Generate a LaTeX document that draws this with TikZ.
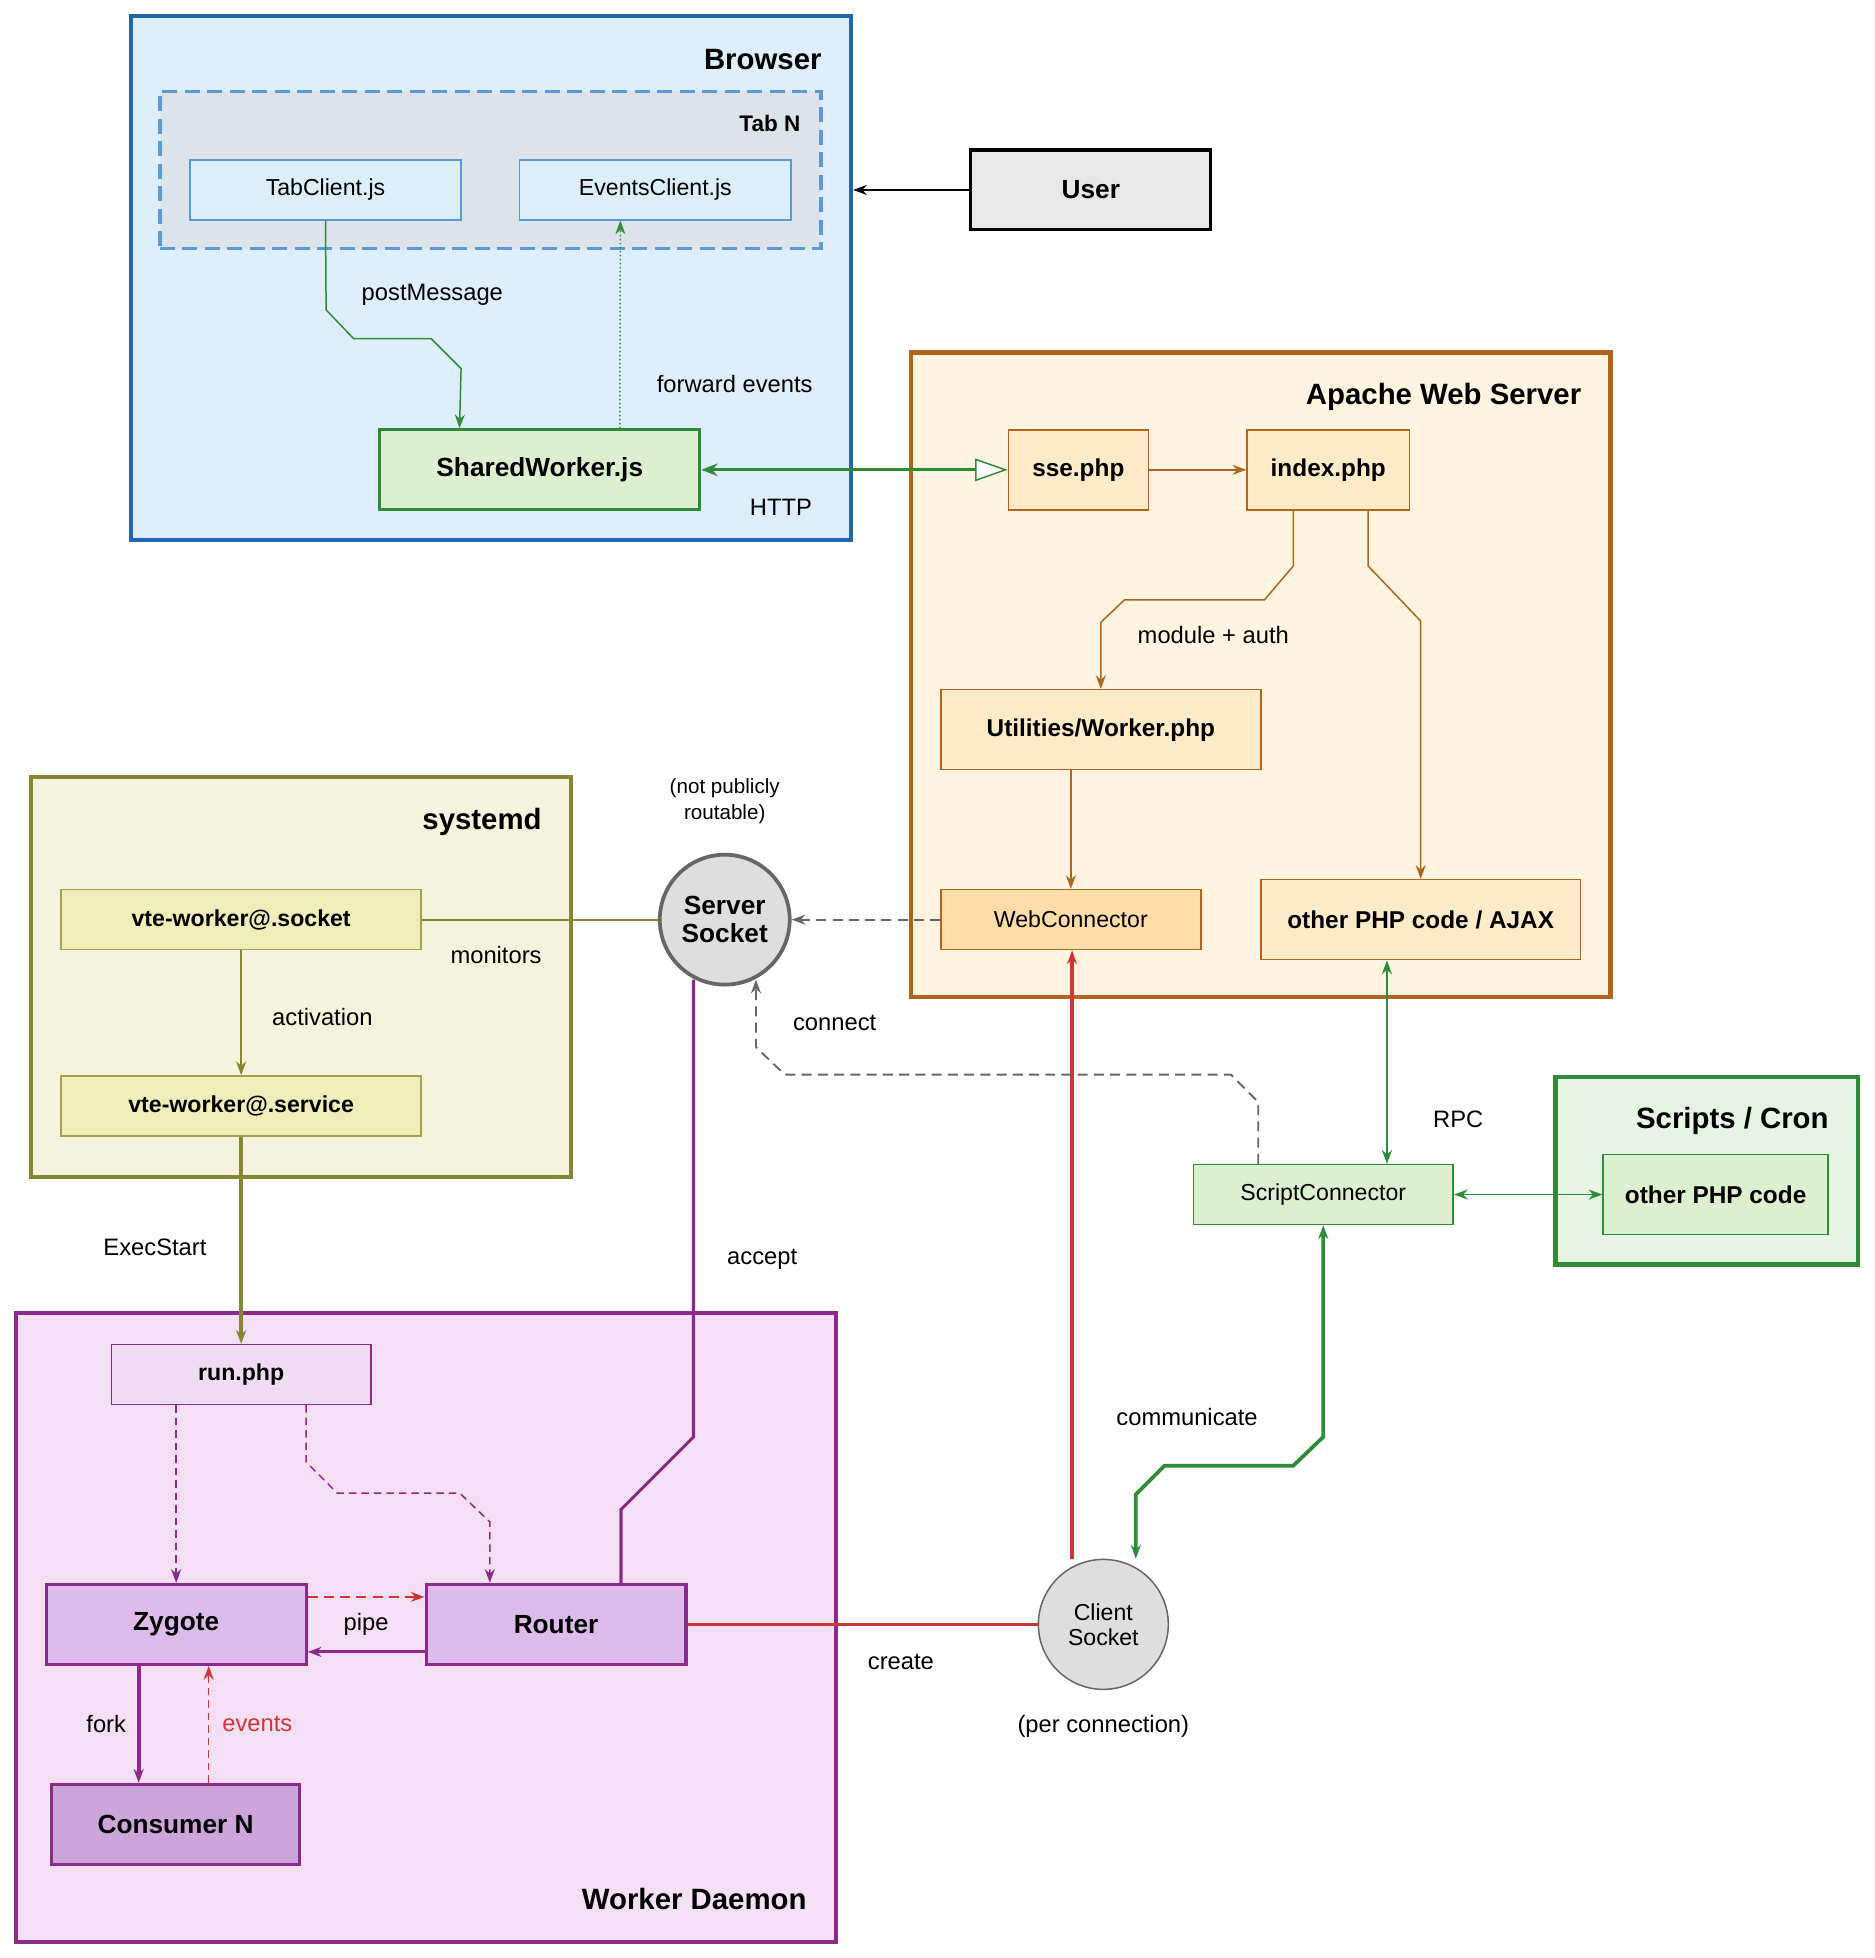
\documentclass[tikz,border=0pt]{standalone}
\usepackage{fontspec}
\setmainfont{Liberation Sans}
\usetikzlibrary{arrows.meta,calc}
\definecolor{bblue}{HTML}{2166AC}\definecolor{bfill}{HTML}{DEEEFC}
\definecolor{tblue}{HTML}{5B9BD5}\definecolor{tfill}{HTML}{DCE3EA}\definecolor{cfill}{HTML}{DCEEF7}
\definecolor{gr}{HTML}{2E8B37}\definecolor{gfill}{HTML}{DCF0D0}\definecolor{gbox}{HTML}{E6F4E4}
\definecolor{org}{HTML}{B0651E}\definecolor{ofill}{HTML}{FFF4E0}\definecolor{onode}{HTML}{FFEBC8}\definecolor{wfill}{HTML}{FFDDA8}
\definecolor{ol}{HTML}{868632}\definecolor{olfill}{HTML}{F4F4DC}\definecolor{olnode}{HTML}{EFEDB8}\definecolor{olst}{HTML}{A4A050}
\definecolor{pu}{HTML}{8B2A8B}\definecolor{pfill}{HTML}{F5DFF4}\definecolor{pnode}{HTML}{DDBBEA}\definecolor{prun}{HTML}{EEDDF2}\definecolor{pcons}{HTML}{CCA6DA}
\definecolor{rd}{HTML}{D03535}\definecolor{gy}{HTML}{666666}
\tikzset{
 every node/.style={font=\fontsize{18.5}{22}\selectfont},
 box/.style={draw,rectangle,inner sep=0pt},
 bt/.style={font=\fontsize{21}{25}\selectfont\bfseries},
 ttl/.style={font=\fontsize{23.5}{28}\selectfont\bfseries,anchor=east},
 lab/.style={font=\fontsize{19}{22}\selectfont},
 tip/.style={-{Stealth[length=11pt,width=8pt]}},
 tip2/.style={{Stealth[length=11pt,width=8pt]}-{Stealth[length=11pt,width=8pt]}},
}
\newcommand{\bx}[6]{\node[box,#6,minimum width=#4-#2,minimum height=#5-#3] (#1) at ({(#2+#4)/2},{(#3+#5)/2}) {};}
\begin{document}
\begin{tikzpicture}[x=1pt,y=-1pt]
\useasboundingbox (0,0) rectangle (1500,1567);
% Browser
\bx{brw}{105}{13}{681}{432}{draw=bblue,fill=bfill,line width=3.5pt}
\node[ttl] at (661,48) {Browser};
\bx{tab}{128}{73}{657}{199}{draw=tblue,fill=tfill,line width=2.5pt,dash pattern=on 12pt off 6pt}
\node[ttl,font=\fontsize{18}{22}\selectfont\bfseries] at (644,99) {Tab N};
\node[box,draw=tblue,fill=cfill,minimum width=217,minimum height=48,line width=1pt] (tc) at (260.5,152) {TabClient.js};
\node[box,draw=tblue,fill=cfill,minimum width=217,minimum height=48,line width=1pt] (ec) at (524.5,152) {EventsClient.js};
\node[box,draw=gr,fill=gfill,minimum width=256,minimum height=64,line width=2.5pt,bt] (sw) at (432,376) {SharedWorker.js};
\node[box,draw=black,fill=black!9,minimum width=192,minimum height=64,line width=2.5pt,bt] (user) at (873,152) {User};
% Apache
\bx{apa}{729}{282}{1289}{798}{draw=org,fill=ofill,line width=3.5pt}
\node[ttl] at (1269,318) {Apache Web Server};
\tikzset{on/.style={box,draw=org,fill=onode,line width=1.2pt,font=\fontsize{19.5}{23}\selectfont\bfseries}}
\node[on,minimum width=112,minimum height=64] (sse) at (863,376) {sse.php};
\node[on,minimum width=130,minimum height=64] (idx) at (1063,376) {index.php};
\node[on,minimum width=256,minimum height=64] (uti) at (881,584) {Utilities/Worker.php};
\node[box,draw=org,fill=wfill,line width=1.2pt,minimum width=208,minimum height=48] (wc) at (857,736) {WebConnector};
\node[on,minimum width=256,minimum height=64] (oth) at (1137,736) {other PHP code / AJAX};
% systemd
\bx{sysd}{25}{622}{457}{942}{draw=ol,fill=olfill,line width=3.5pt}
\node[ttl] at (437,658) {systemd};
\tikzset{sn/.style={box,draw=olst,fill=olnode,line width=1.2pt,minimum width=288,minimum height=48,font=\fontsize{18.5}{22}\selectfont\bfseries}}
\node[sn] (sock) at (193,736) {vte-worker@.socket};
\node[sn] (serv) at (193,885) {vte-worker@.service};
% server socket
\node[circle,draw=gy,fill=black!13,line width=3pt,minimum size=104,inner sep=0pt,align=center,bt] (ss) at (580,736) {Server\\[-3pt]Socket};
\node[lab,align=center,font=\fontsize{16.5}{21}\selectfont] at (580,641) {(not publicly\\routable)};
% Worker Daemon
\bx{wd}{13}{1051}{669}{1554}{draw=pu,fill=pfill,line width=3.5pt}
\node[ttl] at (649,1520) {Worker Daemon};
\node[box,draw=pu,fill=prun,line width=1pt,minimum width=208,minimum height=48,font=\fontsize{18.5}{22}\selectfont\bfseries] (run) at (193,1100) {run.php};
\tikzset{pn/.style={box,draw=pu,fill=pnode,line width=2.5pt,bt}}
\node[pn,minimum width=208,minimum height=64] (zy) at (141,1300) {Zygote};
\node[pn,minimum width=208,minimum height=64] (rt) at (445,1300) {Router};
\node[pn,fill=pcons,minimum width=199,minimum height=64] (cn) at (140.5,1460) {Consumer N};
% client socket
\node[circle,draw=gy,fill=black!13,line width=1.2pt,minimum size=104,inner sep=0pt,align=center] (cs) at (883,1300) {Client\\[-2pt]Socket};
\node[lab] at (883,1382) {(per connection)};
% script connector
\node[box,draw=gr,fill=gfill,line width=1.2pt,minimum width=208,minimum height=48] (sc) at (1059,956) {ScriptConnector};
\bx{scr}{1245}{862}{1487}{1012}{draw=gr,fill=gbox,line width=3.5pt}
\node[ttl] at (1467,897) {Scripts / Cron};
\node[box,draw=gr,fill=gfill,line width=1.2pt,minimum width=180,minimum height=64,font=\fontsize{19.5}{23}\selectfont\bfseries] (opc) at (1373,956) {other PHP code};
% edges
\draw[gr,line width=1.2pt,tip] (tc.south) -- (261,248) -- (283,271) -- (345,271) -- (369,295) -- ([xshift=65]sw.north west);
\node[lab] at (346,236) {postMessage};
\draw[gr,line width=1.2pt,dotted,tip] ([xshift=64]sw.north) -- ([xshift=-28]ec.south);
\node[lab] at (588,307) {forward events};
\draw[black,line width=1.2pt,tip] (user.west) -- (brw.east |- user.west);
\draw[gr,line width=2.5pt,{Stealth[length=13pt,width=10pt]}-{Triangle[open,length=26pt,width=18pt,fill=white,line width=1.2pt]}] (sw.east) -- (sse.west);
\node[lab] at (625,406) {HTTP};
\draw[org,line width=1.2pt,tip] (sse) -- (idx);
\draw[org,line width=1.2pt,tip] ([xshift=-28]idx.south) -- (1035,453) -- (1012,480) -- (900,480) -- (881,498) -- (uti.north);
\node[lab] at (971,508) {module + auth};
\draw[org,line width=1.2pt,tip] ([xshift=32]idx.south) -- (1095,453) -- (1137,497) -- (oth.north);
\draw[org,line width=1.2pt,tip] ([xshift=-24]uti.south) -- ([xshift=0]wc.north);
\draw[gy,line width=1.5pt,dash pattern=on 8pt off 5pt,tip] (wc.west) -- (ss.east);
\draw[ol,line width=1.5pt] (sock.east) -- (ss.west);
\node[lab] at (397,764) {monitors};
\draw[ol,line width=1.2pt,tip] (sock.south) -- (serv.north);
\node[lab] at (258,814) {activation};
\draw[ol,line width=3pt,tip] (serv.south) -- (run.north);
\node[lab] at (124,998) {ExecStart};
\draw[pu,line width=1.2pt,dash pattern=on 6pt off 4pt,tip] ([xshift=-52]run.south) -- (zy.north);
\draw[pu,line width=1.2pt,dash pattern=on 6pt off 4pt,tip] ([xshift=52]run.south) -- (245,1170) -- (270,1195) -- (368,1195) -- (392,1218) -- ([xshift=-53]rt.north);
\draw[rd,line width=1.2pt,dash pattern=on 8pt off 5pt,tip] ([yshift=22]zy.east) -- ([yshift=22]rt.west);
\draw[pu,line width=2.5pt,tip] ([yshift=-22]rt.west) -- ([yshift=-22]zy.east);
\node[lab] at (293,1300) {pipe};
\draw[pu,line width=3pt,tip] ([xshift=-30]zy.south) -- ([xshift=-29.5]cn.north);
\node[lab] at (85,1380) {fork};
\draw[rd,line width=1.2pt,dash pattern=on 6pt off 4pt,tip] ([xshift=26.5]cn.north) -- ([xshift=26]zy.south);
\node[lab,text=rd] at (206,1380) {events};
\draw[pu,line width=2.5pt] ([xshift=52]rt.north) -- (497,1208) -- (555,1150) -- (555,784);
\node[lab] at (610,1008) {accept};
\draw[rd,line width=2.5pt] (rt.east) -- (cs.west);
\node[lab] at (721,1330) {create};
\draw[rd,line width=3pt,tip] ([xshift=-25]cs.north) -- (wc.south -| 858,0);
\draw[gy,line width=1.5pt,dash pattern=on 8pt off 5pt,tip] ([xshift=-52]sc.north) -- (1007,882) -- (985,860) -- (628,860) -- (605,838) -- (605,784);
\node[lab] at (668,819) {connect};
\draw[gr,line width=1.5pt,tip2] (oth.south -| 1110,0) -- (sc.north -| 1110,0);
\node[lab] at (1167,896) {RPC};
\draw[gr,line width=1.5pt,tip2] (sc.east) -- (opc.west);
\draw[gr,line width=3pt,tip2] (sc.south) -- (1059,1150) -- (1035,1173) -- (932,1173) -- (909,1196) -- ([xshift=26]cs.north);
\node[lab] at (950,1134) {communicate};
\end{tikzpicture}
\end{document}
